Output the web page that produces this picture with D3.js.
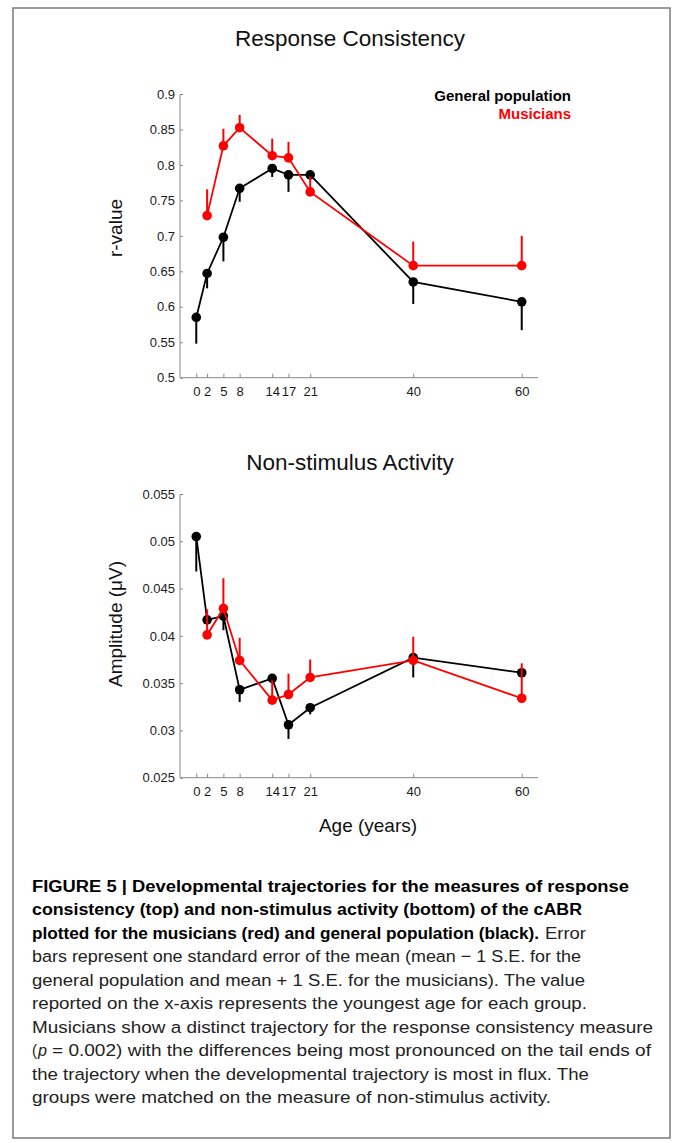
<!DOCTYPE html>
<html><head><meta charset="utf-8">
<script src="https://cdn.jsdelivr.net/npm/d3@7"></script>
<style>
html,body{margin:0;padding:0;background:#fff;}
svg{display:block;}
</style></head>
<body>
<svg id="fig" width="673" height="1143"></svg>
<script>
// ---------- DATA ----------
const ages = [0, 2, 5, 8, 14, 17, 21, 40, 60];
const xTicks = [0, 2, 5, 8, 14, 17, 21, 40, 60];
const musAges = [2, 5, 8, 14, 17, 21, 40, 60];

// Response consistency (r-value)
const rcGeneral    = [0.585, 0.647, 0.698, 0.767, 0.795, 0.786, 0.786, 0.635, 0.607];
const rcGeneralSE  = [0.037, 0.021, 0.034, 0.019, 0.012, 0.024, 0.005, 0.031, 0.040];
const rcMusicians  = [0.7285, 0.827, 0.8525, 0.813, 0.810, 0.762, 0.658, 0.658];
const rcMusiciansSE= [0.037, 0.024, 0.018, 0.024, 0.0225, 0.0216, 0.034, 0.042];
const rcTicks = ["0.5","0.55","0.6","0.65","0.7","0.75","0.8","0.85","0.9"];

// Non-stimulus activity (amplitude, µV)
const nsGeneral    = [0.0505, 0.0417, 0.0421, 0.0343, 0.0355, 0.0306, 0.0324, 0.0377, 0.0361];
const nsGeneralSE  = [0.0037, 0.0005, 0.0015, 0.0013, 0.0004, 0.0015, 0.0007, 0.0021, 0.0004];
const nsMusicians  = [0.0401, 0.0429, 0.0374, 0.0332, 0.0338, 0.0356, 0.0374, 0.0334];
const nsMusiciansSE= [0.0027, 0.0032, 0.0024, 0.0021, 0.0022, 0.0019, 0.0025, 0.0037];
const nsTicks = ["0.025","0.03","0.035","0.04","0.045","0.05","0.055"];

const legendLabels = ["General population", "Musicians"];

// ---------- DRAW ----------
(function(){
const svg = d3.select("#fig");
svg.append("rect").attr("width",673).attr("height",1143).attr("fill","#fff");
svg.append("rect").attr("x",13).attr("y",8).attr("width",657).attr("height",1130)
  .attr("fill","none").attr("stroke","#7a7a7a").attr("stroke-width",1.5);

const RED = "#ff0000", BLACK = "#000";
const FONT = "'Liberation Sans', Arial, Helvetica, sans-serif";

const x = d3.scaleLinear().domain([-3, 63]).range([180, 538]);

function panel(opts){
  const g = svg.append("g");
  const y = d3.scaleLinear().domain(opts.yDomain).range([opts.bottom, opts.top]);

  g.append("text").attr("x", 350).attr("y", opts.titleY).attr("text-anchor","middle")
    .attr("font-family", FONT).attr("font-size", 22.5).attr("fill","#111").text(opts.title);

  const yAxis = d3.axisLeft(y).tickValues(opts.ticks.map(Number))
    .tickFormat((d,i)=>opts.ticks[i]).tickSizeInner(-3).tickSizeOuter(0).tickPadding(5);
  const ya = g.append("g").attr("transform",`translate(180,0)`).call(yAxis);
  ya.select(".domain").attr("stroke","#888").attr("d", `M0,${opts.bottom}V${opts.top}`);
  ya.selectAll(".tick line").attr("stroke","#888");
  ya.selectAll(".tick text").attr("font-family",FONT).attr("font-size",13).attr("fill","#1a1a1a");

  const xAxis = d3.axisBottom(x).tickValues(xTicks).tickSizeInner(-4).tickSizeOuter(0).tickPadding(9)
    .tickFormat(d3.format("d"));
  const xa = g.append("g").attr("transform",`translate(0,${opts.bottom})`).call(xAxis);
  xa.select(".domain").attr("stroke","#888").attr("d","M180,0H538");
  xa.selectAll(".tick line").attr("stroke","#888");
  xa.selectAll(".tick text").attr("font-family",FONT).attr("font-size",13).attr("fill","#1a1a1a");

  g.append("text").attr("transform",`translate(${opts.yLabelX},${opts.yLabelY}) rotate(-90)`)
    .attr("text-anchor","middle").attr("font-family",FONT).attr("font-size",19).attr("fill","#111")
    .text(opts.yLabel);

  const line = d3.line().x(d=>x(d[0])).y(d=>y(d[1]));

  function series(xs, vals, se, dir, color){
    const pts = xs.map((a,i)=>[a, vals[i], se[i]]);
    g.append("g").selectAll("line").data(pts).join("line")
      .attr("x1",d=>x(d[0])).attr("x2",d=>x(d[0]))
      .attr("y1",d=>y(d[1])).attr("y2",d=>y(d[1] + dir*d[2]))
      .attr("stroke",color).attr("stroke-width",2);
    g.append("path").datum(pts).attr("d",line).attr("fill","none")
      .attr("stroke",color).attr("stroke-width",1.8);
    g.append("g").selectAll("circle").data(pts).join("circle")
      .attr("cx",d=>x(d[0])).attr("cy",d=>y(d[1])).attr("r",4.8).attr("fill",color);
  }
  series(ages, opts.gen, opts.genSE, -1, BLACK);
  series(musAges, opts.mus, opts.musSE, 1, RED);
  return g;
}

panel({
  title:"Response Consistency", titleY:46,
  yDomain:[0.5,0.9], top:94, bottom:377.7, ticks:rcTicks,
  yLabel:"r-value", yLabelX:122, yLabelY:228,
  gen:rcGeneral, genSE:rcGeneralSE, mus:rcMusicians, musSE:rcMusiciansSE
});
panel({
  title:"Non-stimulus Activity", titleY:470,
  yDomain:[0.025,0.055], top:494, bottom:777.7, ticks:nsTicks,
  yLabel:"Amplitude (\u03BCV)", yLabelX:122, yLabelY:624,
  gen:nsGeneral, genSE:nsGeneralSE, mus:nsMusicians, musSE:nsMusiciansSE
});

svg.append("text").attr("x",571).attr("y",101).attr("text-anchor","end")
  .attr("font-family",FONT).attr("font-weight","bold").attr("font-size",15).attr("fill",BLACK)
  .text(legendLabels[0]);
svg.append("text").attr("x",571).attr("y",119).attr("text-anchor","end")
  .attr("font-family",FONT).attr("font-weight","bold").attr("font-size",15).attr("fill",RED)
  .text(legendLabels[1]);

svg.append("text").attr("x",368).attr("y",832).attr("text-anchor","middle")
  .attr("font-family",FONT).attr("font-size",19).attr("fill","#111").text("Age (years)");

// caption: each piece = [style, text, x, width]
const CAP = "'Liberation Sans', Arial, Helvetica, sans-serif";
const caption = [
  [["b","FIGURE 5 | Developmental trajectories for the measures of response",32,597]],
  [["b","consistency (top) and non-stimulus activity (bottom) of the cABR",32,550]],
  [["b","plotted for the musicians (red) and general population (black).",32,507],["n","Error",545,41]],
  [["n","bars represent one standard error of the mean (mean \u2212 1 S.E. for the",32,549]],
  [["n","general population and mean + 1 S.E. for the musicians). The value",32,553]],
  [["n","reported on the x-axis represents the youngest age for each group.",32,555]],
  [["n","Musicians show a distinct trajectory for the response consistency measure",32,621]],
  [["n","(",32,5],["i","p",38,9],["n","= 0.002) with the differences being most pronounced on the tail ends of",52,599]],
  [["n","the trajectory when the developmental trajectory is most in flux. The",32,557]],
  [["n","groups were matched on the measure of non-stimulus activity.",32,519]]
];
caption.forEach((ln,i)=>{
  ln.forEach(s=>{
    const t = svg.append("text").attr("x",s[2]).attr("y",892 + i*23.45)
      .attr("font-family",CAP).attr("font-size",17.2).attr("fill","#222")
      .attr("textLength",s[3]).attr("lengthAdjust","spacingAndGlyphs").text(s[1]);
    if(s[0]==="b") t.attr("font-weight","bold").attr("fill","#000");
    if(s[0]==="i") t.attr("font-style","italic");
  });
});
})();
</script>
</body></html>
